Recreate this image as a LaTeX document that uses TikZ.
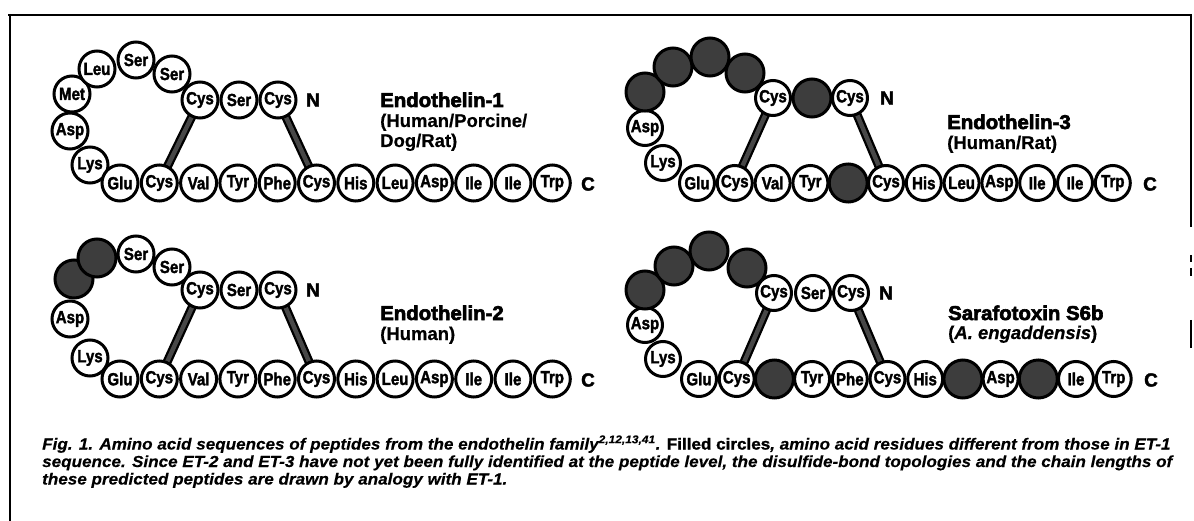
\documentclass[tikz,border=0pt]{standalone}
\usepackage{fontspec}
\usepackage{graphicx}
\setmainfont{Liberation Sans}
\newfontfamily\ressans[FakeBold=2]{Liberation Sans Bold}
\newfontfamily\headsans[FakeBold=3]{Liberation Sans Bold}
\newfontfamily\subsans[FakeBold=0.6]{Liberation Sans Bold}
\newfontfamily\subsansit[FakeBold=0.6]{Liberation Sans Bold Italic}
\newfontfamily\capit[FakeBold=0.3]{Liberation Sans Bold Italic}
\newfontfamily\capbf[FakeBold=1.5]{Liberation Sans Bold}
\definecolor{darkres}{gray}{0.24}
\newcommand\rl[1]{\scalebox{0.86}[1]{#1}}
\newcommand\capfont{\capit\fontsize{16}{17.5}\selectfont}

% residues placed from a list x/y/style/label
\newcommand\chainat[2]{%
  \foreach \px/\py/\st/\lab [count=\k] in {#2} {\node[\st] (#1\k) at (\px,\py) {\rl{\lab}};}}
% straight row: prefix, x0, dx, y, list style/label
\newcommand\rowat[5]{%
  \foreach \st/\lab [count=\k] in {#5} {%
    \pgfmathsetmacro\px{#2+(\k-1)*#3}%
    \node[\st] (#1\k) at (\px,#4) {\rl{\lab}};}}

\pgfdeclarelayer{paper}
\pgfdeclarelayer{bonds}
\pgfsetlayers{paper,bonds,main}

\tikzset{
  rsize/.style={minimum size=35pt},
  res/.style={circle, draw=black, line width=3pt, fill=white, rsize, inner sep=0pt,
    font=\ressans\fontsize{17.5}{17.5}\selectfont},
  dres/.style={res, fill=darkres, minimum size=38pt},
  bondline/.style={line width=9pt, draw=black},
  bondcore/.style={line width=4.4pt, draw=black!72},
  term/.style={font=\ressans\fontsize{19}{19}\selectfont, inner sep=0pt},
  head/.style={anchor=base west, inner sep=0pt, font=\headsans\fontsize{20}{20}\selectfont},
  sub/.style={anchor=base west, inner sep=0pt, font=\subsans\fontsize{18.5}{18.5}\selectfont},
  capl/.style={anchor=base west, inner sep=0pt},
  frame/.style={line width=2.4pt}
}

\begin{document}
\begin{tikzpicture}[x=1pt, y=-1pt]
\useasboundingbox (0,0) rectangle (1194,521);
\begin{pgfonlayer}{paper}
\fill[white] (0,0) rectangle (1194,521);
\end{pgfonlayer}

% frame
\draw[frame] (8,15) -- (1192,15);
\draw[frame] (10,14) -- (10,521);
\draw[frame] (1191,14) -- (1191,227);
\draw[line width=1.4pt] (1191,255) -- (1191,262) (1191,268) -- (1191,276);
\draw[frame] (1191,320) -- (1191,348);

% ---------- Endothelin-1 ----------
\begin{scope}[rsize/.style={minimum size=36pt}]
\chainat{ea}{90/165/res/Lys, 70/131/res/Asp, 72/94/res/Met, 97/69/res/Leu,
  136/60/res/Ser, 172/74/res/Ser, 200/100/res/Cys, 239/100/res/Ser, 278/100/res/Cys}
\rowat{eb}{120}{39.3}{183}{res/Glu, res/Cys, res/Val, res/Tyr, res/Phe, res/Cys,
  res/His, res/Leu, res/Asp, res/Ile, res/Ile, res/Trp}
\end{scope}
\node[term] (eaN) at (313,100) {N};
\node[term] (ebC) at (588,184) {C};
\node[head] (eat) at (380,107) {\scalebox{1.02}[1]{Endothelin-1}};
\node[sub] (eas1) at (380,127) {(Human/Porcine/};
\node[sub] (eas2) at (380,147) {Dog/Rat)};
\begin{pgfonlayer}{bonds}
\draw[bondline] (ea7.center) -- (eb2.center);
\draw[bondcore] (ea7.center) -- (eb2.center);
\draw[bondline] (ea9.center) -- (eb6.center);
\draw[bondcore] (ea9.center) -- (eb6.center);
\end{pgfonlayer}

% ---------- Endothelin-3 ----------
\chainat{ta}{663/163/res/Lys, 645/128/res/Asp, 645/92/dres/{}, 673/67/dres/{},
  710/57/dres/{}, 745/73/dres/{}, 773/98/res/Cys, 812/98/dres/{}, 850/98/res/Cys}
\rowat{tb}{697}{37.8}{183}{res/Glu, res/Cys, res/Val, res/Tyr, dres/{}, res/Cys,
  res/His, res/Leu, res/Asp, res/Ile, res/Ile, res/Trp}
\node[term] (taN) at (887,98) {N};
\node[term] (tbC) at (1150,184) {C};
\node[head] (tat) at (947,129) {\scalebox{1.02}[1]{Endothelin-3}};
\node[sub] (tas1) at (947,149) {(Human/Rat)};
\begin{pgfonlayer}{bonds}
\draw[bondline] (ta7.center) -- (tb2.center);
\draw[bondcore] (ta7.center) -- (tb2.center);
\draw[bondline] (ta9.center) -- (tb6.center);
\draw[bondcore] (ta9.center) -- (tb6.center);
\end{pgfonlayer}

% ---------- Endothelin-2 ----------
\begin{scope}[rsize/.style={minimum size=36pt}]
\chainat{wa}{90/358/res/Lys, 70/319/res/Asp, 74/279/dres/{}, 97/258/dres/{},
  136/254/res/Ser, 172/267/res/Ser, 200/290/res/Cys, 239/290/res/Ser, 278/290/res/Cys}
\rowat{wb}{120}{39.3}{379}{res/Glu, res/Cys, res/Val, res/Tyr, res/Phe, res/Cys,
  res/His, res/Leu, res/Asp, res/Ile, res/Ile, res/Trp}
\end{scope}
\node[term] (waN) at (313,290) {N};
\node[term] (wbC) at (588,380) {C};
\node[head] (wat) at (380,320) {\scalebox{1.02}[1]{Endothelin-2}};
\node[sub] (was1) at (380,340) {(Human)};
\begin{pgfonlayer}{bonds}
\draw[bondline] (wa7.center) -- (wb2.center);
\draw[bondcore] (wa7.center) -- (wb2.center);
\draw[bondline] (wa9.center) -- (wb6.center);
\draw[bondcore] (wa9.center) -- (wb6.center);
\end{pgfonlayer}

% ---------- Sarafotoxin S6b ----------
\chainat{sa}{663/359/res/Lys, 645/325/res/Asp, 645/290/dres/{}, 674/266/dres/{},
  709/251/dres/{}, 747/268/dres/{}, 774/293/res/Cys, 813/293/res/Ser, 851/293/res/Cys}
\rowat{sb}{699}{37.7}{379}{res/Glu, res/Cys, dres/{}, res/Tyr, res/Phe, res/Cys,
  res/His, dres/{}, res/Asp, dres/{}, res/Ile, res/Trp}
\node[term] (saN) at (886,293) {N};
\node[term] (sbC) at (1151,380) {C};
\node[head] (sat) at (948,320) {\scalebox{1.02}[1]{Sarafotoxin S6b}};
\node[sub] (sas1) at (948,339) {({\subsansit A. engaddensis})};
\begin{pgfonlayer}{bonds}
\draw[bondline] (sa7.center) -- (sb2.center);
\draw[bondcore] (sa7.center) -- (sb2.center);
\draw[bondline] (sa9.center) -- (sb6.center);
\draw[bondcore] (sa9.center) -- (sb6.center);
\end{pgfonlayer}

% ---------- caption ----------
\node[capl] (cap) at (42,449.5) {\resizebox{1130pt}{\height}{\capfont
  \begin{tabular}[t]{@{}l@{}}
  Fig. 1. Amino acid sequences of peptides from the endothelin family\textsuperscript{2,12,13,41}. {\capbf Filled circles}, amino acid residues different from those in ET-1\\
  sequence. Since ET-2 and ET-3 have not yet been fully identified at the peptide level, the disulfide-bond topologies and the chain lengths of\\
  these predicted peptides are drawn by analogy with ET-1.
  \end{tabular}}};
\end{tikzpicture}
\end{document}
